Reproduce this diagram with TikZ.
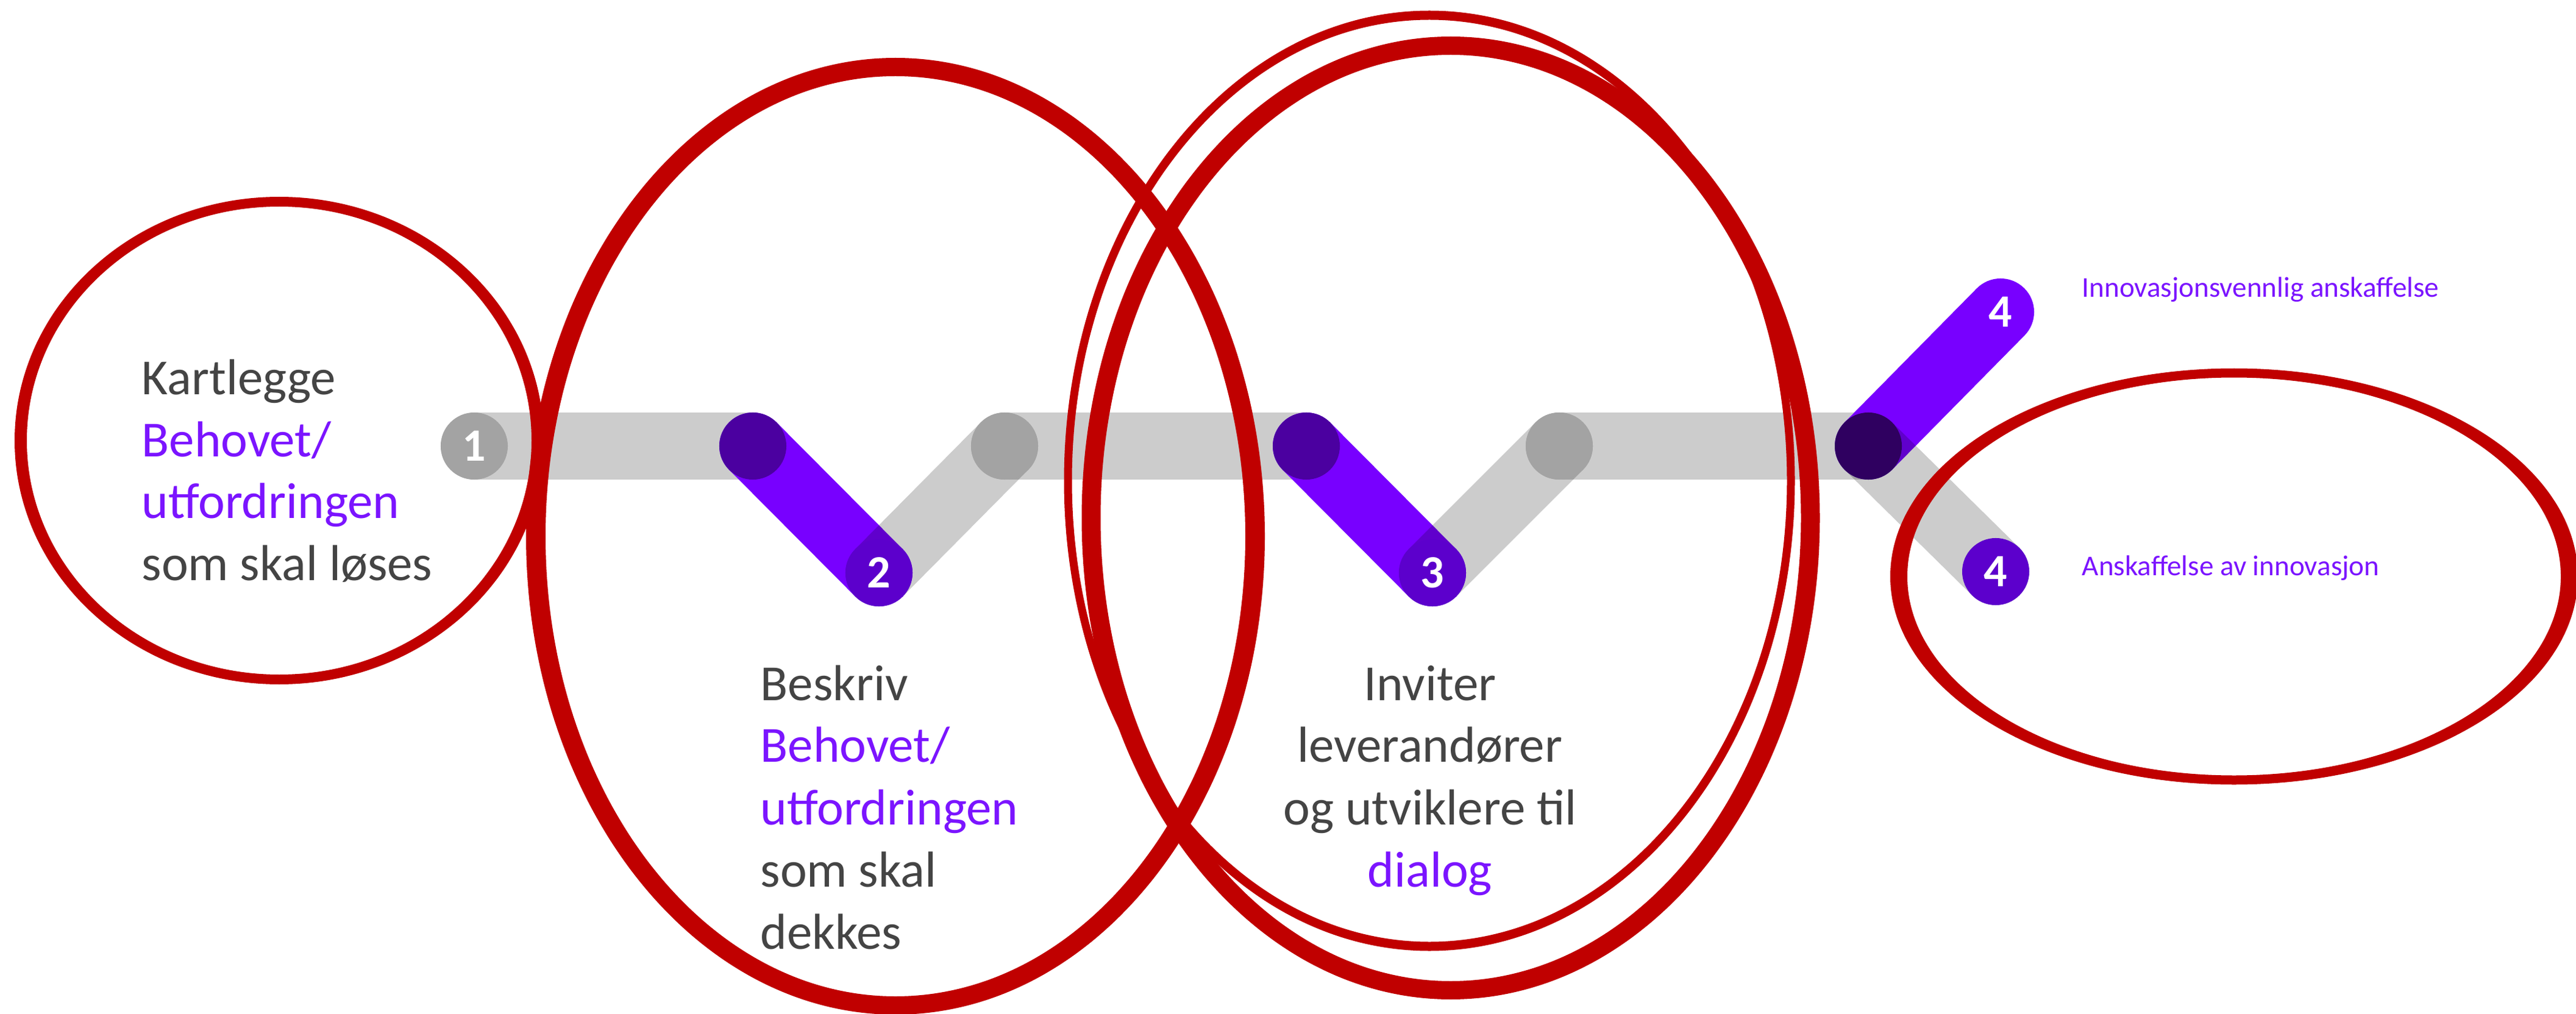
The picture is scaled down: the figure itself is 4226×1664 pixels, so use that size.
\documentclass[tikz,border=0pt]{standalone}
\usepackage{fontspec}
\setmainfont{Carlito}
\definecolor{txtgray}{HTML}{444444}
\definecolor{txtpurple}{HTML}{7B14FF}
\definecolor{linepurple}{HTML}{7800FF}
\definecolor{darkjoint}{HTML}{4B00A0}
\definecolor{nodepurple}{HTML}{5C00CC}
\definecolor{darkest}{HTML}{2F0060}
\definecolor{graynode}{HTML}{A3A3A3}
\definecolor{ringred}{HTML}{C00000}
\tikzset{
  graytrack/.style={draw=black, draw opacity=0.2, line width=1.1cm, line cap=round},
  purpletrack/.style={draw=linepurple, line width=1.1cm, line cap=round},
  jointdot/.style={circle, inner sep=0pt, minimum size=1.1cm, text=white,
    font=\fontsize{21.6}{26}\selectfont\bfseries},
  bigtxt/.style={inner sep=0pt, text=txtgray, font=\fontsize{23.6}{28.7}\selectfont},
  smalltxt/.style={inner sep=0pt, text=txtpurple, font=\fontsize{13.4}{16}\selectfont},
  ring/.style={fill=ringred, even odd rule}
}
\begin{document}
\begin{tikzpicture}[x=0.01cm, y=-0.01cm]
\useasboundingbox (0,0) rectangle (4226,1664);
% track points
\coordinate (p1) at (778,732);
\coordinate (p2a) at (1235,732);
\coordinate (p2) at (1442,940);
\coordinate (p2b) at (1648,732);
\coordinate (p3a) at (2143,732);
\coordinate (p3) at (2350,940);
\coordinate (p3b) at (2558,732);
\coordinate (p4a) at (3065,732);
\coordinate (p4u) at (3282,512);
\coordinate (p4d) at (3274,938);
% track segments in sequence
\draw[graytrack] (p1) -- (p2a);
\draw[purpletrack] (p2a) -- (p2);
\draw[graytrack] (p2) -- (p2b);
\draw[graytrack] (p2b) -- (p3a);
\draw[purpletrack] (p3a) -- (p3);
\draw[graytrack] (p3) -- (p3b);
\draw[graytrack] (p3b) -- (p4a);
\draw[purpletrack] (p4a) -- (p4u);
\draw[graytrack] (p4a) -- (p4d);
% joints
\node[jointdot, fill=graynode] (n1) at (p1) {1};
\node[jointdot, fill=darkjoint] (n2a) at (p2a) {};
\node[jointdot, fill=nodepurple] (n2) at (p2) {2};
\node[jointdot, fill=graynode] (n2b) at (p2b) {};
\node[jointdot, fill=darkjoint] (n3a) at (p3a) {};
\node[jointdot, fill=nodepurple] (n3) at (p3) {3};
\node[jointdot, fill=graynode] (n3b) at (p3b) {};
\node[jointdot, fill=darkest] (n4a) at (p4a) {};
\node[jointdot] (n4u) at (p4u) {4};
\node[jointdot, fill=nodepurple] (n4d) at (p4d) {4};
% text block 1
\node[bigtxt, anchor=base west] (t1a) at (232,648) {Kartlegge};
\node[bigtxt, anchor=base west, text=txtpurple] (t1b) at (232,749) {Behovet/};
\node[bigtxt, anchor=base west, text=txtpurple] (t1c) at (232,850) {utfordringen};
\node[bigtxt, anchor=base west] (t1d) at (232,952) {som skal løses};
% text block 2
\node[bigtxt, anchor=base west] (t2a) at (1247,1149) {Beskriv};
\node[bigtxt, anchor=base west, text=txtpurple] (t2b) at (1247,1250) {Behovet/};
\node[bigtxt, anchor=base west, text=txtpurple] (t2c) at (1247,1353) {utfordringen};
\node[bigtxt, anchor=base west] (t2d) at (1247,1455) {som skal};
\node[bigtxt, anchor=base west] (t2e) at (1247,1557) {dekkes};
% text block 3
\node[bigtxt, anchor=base] (t3a) at (2346,1149) {Inviter};
\node[bigtxt, anchor=base] (t3b) at (2346,1250) {leverandører};
\node[bigtxt, anchor=base] (t3c) at (2346,1353) {og utviklere til};
\node[bigtxt, anchor=base, text=txtpurple] (t3d) at (2346,1455) {dialog};
% small labels
\node[smalltxt, anchor=base west] (s1) at (3415,488) {Innovasjonsvennlig anskaffelse};
\node[smalltxt, anchor=base west] (s2) at (3415,944) {Anskaffelse av innovasjon};
% red rings (outer and inner ellipse, even odd)
\fill[ring] (458,723) ellipse (434 and 400) (458,723) ellipse (414 and 384);
\fill[ring] (1469,880) ellipse (606 and 785) (1469,880) ellipse (574 and 755);
\fill[ring] (2345,789) ellipse (599.5 and 771.5) (2345,789) ellipse (586.5 and 756.5);
\fill[ring] (2380,850) ellipse (605.5 and 790) (2380,850) ellipse (574.5 and 760);
\fill[ring] (3665,946) ellipse (564 and 341.5) (3665,946) ellipse (536 and 326.5);
\end{tikzpicture}
\end{document}
